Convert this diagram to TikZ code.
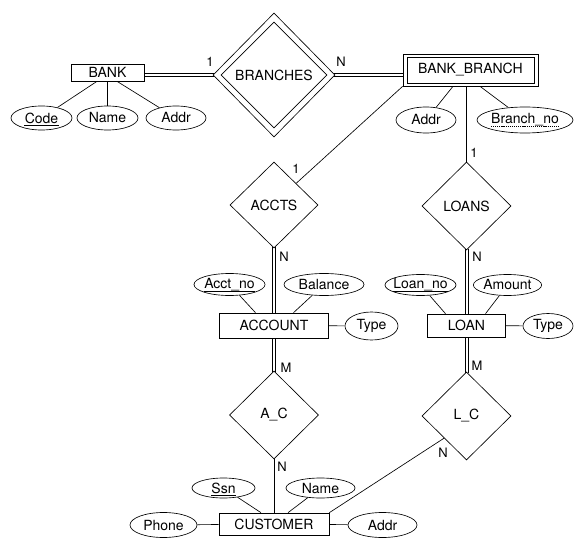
\documentclass[tikz,border=0pt]{standalone}
\usepackage{fontspec}
\setmainfont{TeX Gyre Heros}
\usetikzlibrary{shapes.geometric,calc}
\begin{document}
\begin{tikzpicture}[x=1pt,y=-1pt,line width=0.65pt,
  every node/.style={font=\fontsize{14}{16}\selectfont},
  ent/.style={draw,rectangle,inner sep=0pt},
  attr/.style={draw,ellipse,inner sep=0pt},
  txt/.style={inner sep=0pt},
  keyline/.style={line width=0.7pt},
  partkey/.style={dash pattern=on 1.2pt off 0.9pt,line width=0.6pt},
  rel/.style={draw,diamond,inner sep=0pt,minimum width=89pt,minimum height=88pt},
  card/.style={font=\fontsize{13}{15}\selectfont,inner sep=0pt}]
\useasboundingbox (0,0) rectangle (580,545);
% BANK
\node[ent,minimum width=73pt,minimum height=17pt] (bank) at (107.5,72.5) {BANK};
\node[attr,minimum width=61pt,minimum height=24pt] (code) at (41.5,118) {};
\node[txt] (codeText) at (41.5,118) {Code};
\draw[keyline] ([yshift=-2.5pt]codeText.base west) -- ([yshift=-2.5pt]codeText.base east);
\node[attr,minimum width=61pt,minimum height=24pt] (bname) at (107.5,118) {Name};
\node[attr,minimum width=60pt,minimum height=24pt] (baddr) at (176,118) {Addr};
% BRANCHES
\node[rel,minimum width=122pt,minimum height=124pt] (branches) at (274,75) {};
\node[rel,minimum width=106pt,minimum height=106pt] (branchesIn) at (274,75) {BRANCHES};
% BANK_BRANCH
\node[ent,minimum width=135pt,minimum height=32pt] (bb) at (470.5,70) {};
\node[ent,minimum width=127pt,minimum height=26pt] (bbIn) at (470.5,70) {BANK\_BRANCH};
\node[attr,minimum width=60pt,minimum height=26pt] (bbaddr) at (426,120) {Addr};
\node[attr,minimum width=96pt,minimum height=26pt] (bno) at (525,120) {};
\node[txt] (bnoText) at (525,120) {Branch\_no};
\draw[partkey] ([yshift=-2.5pt]bnoText.base west) -- ([yshift=-2.5pt]bnoText.base east);
% ACCTS / LOANS
\node[rel,minimum width=88pt,minimum height=86pt] (accts) at (274,205) {ACCTS};
\node[rel] (loans) at (466.5,206) {LOANS};
% ACCOUNT
\node[attr,minimum width=71pt,minimum height=22pt] (acctno) at (229.5,284.5) {};
\node[txt] (acctnoText) at (229.5,284.5) {Acct\_no};
\draw[keyline] ([yshift=-2.5pt]acctnoText.base west) -- ([yshift=-2.5pt]acctnoText.base east);
\node[attr,minimum width=80pt,minimum height=22pt] (balance) at (324,284.5) {Balance};
\node[ent,minimum width=109pt,minimum height=25pt] (account) at (274,325.5) {ACCOUNT};
\node[attr,minimum width=53pt,minimum height=28pt] (atype) at (371.5,326) {Type};
% LOAN
\node[attr,minimum width=71pt,minimum height=21pt] (loanno) at (420.5,285) {};
\node[txt] (loannoText) at (420.5,285) {Loan\_no};
\draw[keyline] ([yshift=-2.5pt]loannoText.base west) -- ([yshift=-2.5pt]loannoText.base east);
\node[attr,minimum width=63pt,minimum height=21pt] (amount) at (507.5,285) {Amount};
\node[ent,minimum width=78pt,minimum height=23pt] (loan) at (466.5,325.5) {LOAN};
\node[attr,minimum width=50pt,minimum height=25pt] (ltype) at (548,326) {Type};
% A_C / L_C
\node[rel] (ac) at (274,415) {A\_C};
\node[rel] (lc) at (466.5,416) {L\_C};
% CUSTOMER
\node[attr,minimum width=63pt,minimum height=20pt] (ssn) at (223.5,488) {};
\node[txt] (ssnText) at (223.5,488) {Ssn};
\draw[keyline] ([yshift=-2.5pt]ssnText.base west) -- ([yshift=-2.5pt]ssnText.base east);
\node[attr,minimum width=69pt,minimum height=20pt] (cname) at (320.5,488) {Name};
\node[ent,minimum width=110pt,minimum height=22pt] (customer) at (274,524) {CUSTOMER};
\node[attr,minimum width=67pt,minimum height=25pt] (phone) at (163.5,525) {Phone};
\node[attr,minimum width=69pt,minimum height=25pt] (caddr) at (382.5,525) {Addr};
% total participation (double) connectors
\draw ([yshift=1.6pt]bank.east |- branches.west) -- ([shift={(1.6pt,1.6pt)}]branches.west);
\draw ([yshift=-1.6pt]bank.east |- branches.west) -- ([shift={(1.6pt,-1.6pt)}]branches.west);
\draw ([shift={(-1.6pt,1.6pt)}]branches.east) -- ([yshift=1.6pt]branches.east -| bb.west);
\draw ([shift={(-1.6pt,-1.6pt)}]branches.east) -- ([yshift=-1.6pt]branches.east -| bb.west);
\draw ([shift={(-1.6pt,1.6pt)}]accts.south) -- ([xshift=-1.6pt]account.north);
\draw ([shift={(1.6pt,1.6pt)}]accts.south) -- ([xshift=1.6pt]account.north);
\draw ([shift={(-1.6pt,1.6pt)}]loans.south) -- ([xshift=-1.6pt]loan.north);
\draw ([shift={(1.6pt,1.6pt)}]loans.south) -- ([xshift=1.6pt]loan.north);
\draw ([xshift=-1.6pt]account.south) -- ([shift={(-1.6pt,-1.6pt)}]ac.north);
\draw ([xshift=1.6pt]account.south) -- ([shift={(1.6pt,-1.6pt)}]ac.north);
\draw ([xshift=-1.6pt]loan.south) -- ([shift={(-1.6pt,-1.6pt)}]lc.north);
\draw ([xshift=1.6pt]loan.south) -- ([shift={(1.6pt,-1.6pt)}]lc.north);
% single connectors
\draw ([xshift=-10.5pt]bank.south) -- (code);
\draw (bank) -- (bname);
\draw ([xshift=9.5pt]bank.south) -- (baddr);
\draw ([xshift=-17.5pt]bb.south) -- (bbaddr);
\draw ([xshift=9.5pt]bb.south) -- (bno);
\draw (bb.south west) -- ($(accts.north)!0.5!(accts.east)$);
\draw (loans.north |- bb.south) -- (loans.north);
\draw ([xshift=-18.5pt]account.north) -- (acctno);
\draw ([xshift=19.5pt]account.north) -- (balance);
\draw (account) -- (atype);
\draw ([xshift=-21pt]loan.north) -- (loanno);
\draw ([xshift=19pt]loan.north) -- (amount);
\draw (loan) -- (ltype);
\draw (ac.south) -- (customer.north);
\draw (customer.north east) -- ($(lc.west)!0.5!(lc.south)$);
\draw ([xshift=-13pt]customer.north) -- (ssn);
\draw ([xshift=14pt]customer.north) -- (cname);
\draw (customer) -- (phone);
\draw (customer) -- (caddr);
% cardinalities
\node[card] (k1) at (210,62) {1};
\node[card] (k2) at (341,62) {N};
\node[card] (k3) at (296,169) {1};
\node[card] (k4) at (284,257) {N};
\node[card] (k5) at (474,153) {1};
\node[card] (k6) at (477,257) {N};
\node[card] (k7) at (286,368) {M};
\node[card] (k8) at (282,467) {N};
\node[card] (k9) at (477,366) {M};
\node[card] (k10) at (443,453) {N};
\end{tikzpicture}
\end{document}
